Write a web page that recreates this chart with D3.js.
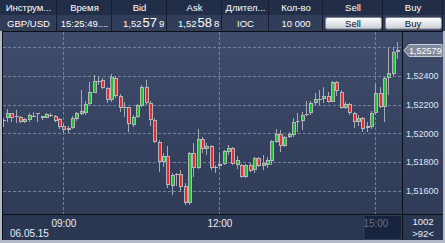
<!DOCTYPE html>
<html>
<head>
<meta charset="utf-8">
<script src="https://cdn.jsdelivr.net/npm/d3@7"></script>
<style>
  body { margin: 0; background: #2b3651; }
  svg { display: block; font-family: "Liberation Sans", Arial, sans-serif; }
</style>
</head>
<body>
<svg id="chart"></svg>
<script>
// 5 minute bars, GBP/USD, 06.05.15
var times = ["07:50","07:55",
  "08:00","08:05","08:10","08:15","08:20","08:25","08:30","08:35","08:40","08:45","08:50","08:55",
  "09:00","09:05","09:10","09:15","09:20","09:25","09:30","09:35","09:40","09:45","09:50","09:55",
  "10:00","10:05","10:10","10:15","10:20","10:25","10:30","10:35","10:40","10:45","10:50","10:55",
  "11:00","11:05","11:10","11:15","11:20","11:25","11:30","11:35","11:40","11:45","11:50","11:55",
  "12:00","12:05","12:10","12:15","12:20","12:25","12:30","12:35","12:40","12:45","12:50","12:55",
  "13:00","13:05","13:10","13:15","13:20","13:25","13:30","13:35","13:40","13:45","13:50","13:55",
  "14:00","14:05","14:10","14:15","14:20","14:25","14:30","14:35","14:40","14:45","14:50","14:55",
  "15:00","15:05","15:10","15:15","15:20","15:25"];

var open = [1.52090,1.52105,1.52139,1.52120,1.52116,1.52077,1.52093,1.52120,1.52140,1.52123,1.52109,1.52131,1.52123,1.52100,
  1.52053,1.52023,1.52035,1.52098,1.52133,1.52144,1.52206,1.52283,1.52367,1.52371,1.52318,1.52232,
  1.52388,1.52262,1.52181,1.52183,1.52058,1.52112,1.52193,1.52325,1.52209,1.52093,1.51941,1.51802,
  1.51844,1.51635,1.51714,1.51714,1.51635,1.51512,1.51861,1.51756,1.51958,1.51888,1.51911,1.51763,
  1.51770,1.51786,1.51872,1.51895,1.51779,1.51779,1.51698,1.51779,1.51744,1.51826,1.51772,1.51779,
  1.51809,1.51941,1.51995,1.51911,1.51976,1.51988,1.52086,1.52086,1.52135,1.52139,1.52213,1.52236,
  1.52237,1.52262,1.52220,1.52360,1.52290,1.52174,1.52202,1.52139,1.52077,1.52109,1.52035,1.52046,
  1.52139,1.52279,1.52185,1.52388,1.52411,1.52565];
var high = [1.52107,1.52167,1.52144,1.52162,1.52121,1.52109,1.52144,1.52151,1.52144,1.52123,1.52139,1.52139,1.52128,1.52109,
  1.52063,1.52051,1.52121,1.52151,1.52302,1.52225,1.52355,1.52406,1.52402,1.52385,1.52325,1.52416,
  1.52400,1.52272,1.52220,1.52186,1.52130,1.52202,1.52337,1.52371,1.52225,1.52105,1.51951,1.51860,
  1.51911,1.51721,1.51721,1.51744,1.51651,1.51868,1.51930,1.52028,1.51975,1.51930,1.51918,1.51779,
  1.51861,1.51884,1.51918,1.51902,1.51842,1.51786,1.51786,1.51791,1.51837,1.51837,1.51849,1.51837,
  1.51953,1.52030,1.52023,1.51981,1.52011,1.52109,1.52139,1.52146,1.52225,1.52225,1.52279,1.52302,
  1.52325,1.52290,1.52365,1.52365,1.52302,1.52216,1.52209,1.52151,1.52128,1.52116,1.52077,1.52155,
  1.52342,1.52325,1.52395,1.52597,1.52604,1.52638];
var low = [1.52044,1.52081,1.52081,1.52072,1.52070,1.52070,1.52081,1.52116,1.52080,1.52093,1.52105,1.52114,1.52077,1.52028,
  1.52000,1.52000,1.52028,1.52088,1.52128,1.52128,1.52198,1.52279,1.52337,1.52309,1.52209,1.52220,
  1.52244,1.52151,1.52116,1.52011,1.52046,1.52105,1.52186,1.52197,1.52053,1.51930,1.51728,1.51767,
  1.51617,1.51570,1.51635,1.51593,1.51500,1.51500,1.51698,1.51749,1.51861,1.51849,1.51744,1.51725,
  1.51749,1.51779,1.51849,1.51779,1.51749,1.51686,1.51686,1.51732,1.51725,1.51763,1.51744,1.51756,
  1.51779,1.51930,1.51872,1.51902,1.51965,1.51974,1.52011,1.52023,1.52123,1.52128,1.52197,1.52197,
  1.52209,1.52209,1.52216,1.52262,1.52169,1.52169,1.52128,1.52035,1.52053,1.52007,1.52011,1.52030,
  1.52128,1.52174,1.52077,1.52267,1.52401,1.52518];
var close = [1.52085,1.52144,1.52105,1.52115,1.52081,1.52098,1.52128,1.52123,1.52140,1.52109,1.52132,1.52118,1.52086,1.52042,
  1.52023,1.52035,1.52105,1.52139,1.52156,1.52206,1.52285,1.52364,1.52364,1.52318,1.52232,1.52390,
  1.52262,1.52178,1.52181,1.52063,1.52112,1.52197,1.52325,1.52209,1.52093,1.51941,1.51797,1.51844,
  1.51640,1.51709,1.51712,1.51628,1.51512,1.51861,1.51756,1.51958,1.51888,1.51911,1.51756,1.51765,
  1.51786,1.51877,1.51895,1.51786,1.51814,1.51698,1.51779,1.51740,1.51826,1.51772,1.51791,1.51814,
  1.51946,1.51995,1.51911,1.51976,1.51995,1.52081,1.52088,1.52128,1.52137,1.52213,1.52237,1.52238,
  1.52262,1.52220,1.52360,1.52295,1.52174,1.52202,1.52139,1.52077,1.52109,1.52030,1.52053,1.52139,
  1.52279,1.52185,1.52388,1.52418,1.52565,1.52579];

var priceTicks = [1.516, 1.518, 1.520, 1.522, 1.524, 1.526];
var timeTicks = ["09:00", "12:00", "15:00"];

var headers = ["Инструм...", "Время", "Bid", "Ask", "Длител...", "Кол-во", "Sell", "Buy"];
var row = ["GBP/USD", "15:25:49....", "", "", "IOC", "10 000", "Sell", "Buy"];
var bid = ["1,52", "57", "9"];
var ask = ["1,52", "58", "8"];
var dateLabel = "06.05.15";
var countLabel = "1002";
var barsLabel = ">92<";

var W = 445, H = 243;
var cols = [0, 57, 112, 167, 222, 269, 323, 383, 443];
var plot = {left: 3, right: 402, top: 32, bottom: 214};

var svg = d3.select("#chart").attr("width", W).attr("height", H);

var day = "2015-05-06 ";
var parse = d3.timeParse("%Y-%m-%d %H:%M");
var dates = times.map(function(t) { return parse(day + t); });

var x = d3.scaleTime()
  .domain([parse(day + "09:00"), parse(day + "12:00")])
  .range([63.4, 219.4]);
var y = d3.scaleLinear()
  .domain([1.516, 1.526])
  .range([190.7, 47.3]);

var defs = svg.append("defs");
var bg = defs.append("linearGradient").attr("id", "bg")
  .attr("x1", 0).attr("y1", 0).attr("x2", 0).attr("y2", 1);
bg.append("stop").attr("offset", 0).attr("stop-color", "#3f4c6b");
bg.append("stop").attr("offset", 1).attr("stop-color", "#2d3954");
var btn = defs.append("linearGradient").attr("id", "btn")
  .attr("x1", 0).attr("y1", 0).attr("x2", 0).attr("y2", 1);
btn.append("stop").attr("offset", 0).attr("stop-color", "#ffffff");
btn.append("stop").attr("offset", 1).attr("stop-color", "#c9ced6");
defs.append("clipPath").attr("id", "clip").append("rect")
  .attr("x", plot.left).attr("y", plot.top)
  .attr("width", plot.right - plot.left).attr("height", plot.bottom - plot.top);

// header table
svg.append("rect").attr("width", W).attr("height", 15).attr("fill", "#222e47");
svg.append("rect").attr("y", 15).attr("width", W).attr("height", 16).attr("fill", "#313d59");
cols.slice(1).forEach(function(c) {
  svg.append("line").attr("x1", c - 0.5).attr("x2", c - 0.5).attr("y1", 0).attr("y2", 31)
    .attr("stroke", "#151d2e");
});
headers.forEach(function(h, i) {
  svg.append("text").text(h)
    .attr("x", (cols[i] + cols[i + 1]) / 2).attr("y", 11)
    .attr("text-anchor", "middle").attr("font-size", "9.5px").attr("fill", "#ffffff");
});
row.forEach(function(v, i) {
  if (!v) return;
  var cx = (cols[i] + cols[i + 1]) / 2;
  if (i >= 6) {
    svg.append("rect").attr("x", cols[i] + 2.5).attr("y", 17.5)
      .attr("width", cols[i + 1] - cols[i] - 4).attr("height", 11.5).attr("rx", 2)
      .attr("fill", "url(#btn)").attr("stroke", "#7e8592");
  }
  svg.append("text").text(v)
    .attr("x", cx).attr("y", 27)
    .attr("text-anchor", "middle").attr("font-size", "9.5px")
    .attr("fill", i >= 6 ? "#111111" : "#ffffff");
});
[[bid, cols[2]], [ask, cols[3]]].forEach(function(q) {
  var t = svg.append("text").attr("x", q[1] + 11).attr("y", 27).attr("fill", "#ffffff");
  t.append("tspan").text(q[0][0]).attr("font-size", "9.5px");
  t.append("tspan").text(q[0][1]).attr("font-size", "13px").attr("dx", 1);
  t.append("tspan").text(q[0][2]).attr("font-size", "9.5px").attr("dx", 2);
});

// chart area
svg.append("rect").attr("x", 0).attr("y", 31).attr("width", W).attr("height", H - 31)
  .attr("fill", "#b3bac7");
svg.append("rect").attr("x", 2).attr("y", 31).attr("width", 441).attr("height", 209)
  .attr("fill", "url(#bg)");
svg.append("rect").attr("x", 2).attr("y", 214).attr("width", 441).attr("height", 26)
  .attr("fill", "#2b3651");

// grid
svg.append("g").selectAll("line").data(priceTicks).enter().append("line")
  .attr("x1", plot.left).attr("x2", plot.right)
  .attr("y1", function(d) { return Math.round(y(d)) + 0.5; })
  .attr("y2", function(d) { return Math.round(y(d)) + 0.5; })
  .attr("stroke", "#7182a2").attr("stroke-dasharray", "3,2");
svg.append("g").selectAll("line").data(timeTicks).enter().append("line")
  .attr("x1", function(d) { return Math.round(x(parse(day + d))) + 0.5; })
  .attr("x2", function(d) { return Math.round(x(parse(day + d))) + 0.5; })
  .attr("y1", plot.top).attr("y2", plot.bottom)
  .attr("stroke", "#7182a2").attr("stroke-dasharray", "3,2");

// candles
var candles = svg.append("g").attr("clip-path", "url(#clip)")
  .selectAll("g").data(dates).enter().append("g");
candles.append("rect")
  .attr("x", function(d) { return Math.round(x(d)); })
  .attr("y", function(d, i) { return Math.round(y(high[i])); })
  .attr("width", 1)
  .attr("height", function(d, i) { return Math.max(1, Math.round(y(low[i])) - Math.round(y(high[i]))); })
  .attr("fill", "#a6aab2");
function bodyTop(i) { return Math.round(y(Math.max(open[i], close[i]))); }
function bodyH(i) { return Math.max(1, Math.round(y(Math.min(open[i], close[i]))) - bodyTop(i)); }
candles.append("rect")
  .attr("x", function(d) { return Math.round(x(d)) - 1; })
  .attr("y", function(d, i) { return bodyTop(i); })
  .attr("width", 4)
  .attr("height", function(d, i) { return bodyH(i); })
  .attr("fill", "#b4b6bb");
candles.filter(function(d, i) { return bodyH(i) > 2; }).append("rect")
  .attr("x", function(d) { return Math.round(x(d)); })
  .attr("y", function(d) { return bodyTop(dates.indexOf(d)) + 1; })
  .attr("width", 2)
  .attr("height", function(d) { return bodyH(dates.indexOf(d)) - 2; })
  .attr("fill", function(d) {
    var i = dates.indexOf(d);
    return close[i] > open[i] ? "#1fc12c" : "#ec2a2c";
  });

// borders
svg.append("line").attr("x1", 2).attr("x2", 443).attr("y1", 31.5).attr("y2", 31.5).attr("stroke", "#0b0f18");
svg.append("line").attr("x1", 2.5).attr("x2", 2.5).attr("y1", 31).attr("y2", 240).attr("stroke", "#0b0f18");
svg.append("line").attr("x1", 2).attr("x2", 443).attr("y1", 214.5).attr("y2", 214.5).attr("stroke", "#0b0f18");
svg.append("line").attr("x1", 402.5).attr("x2", 402.5).attr("y1", 31).attr("y2", 240).attr("stroke", "#0b0f18");

// time axis
svg.append("rect").attr("x", 364).attr("y", 215.5).attr("width", 37.5).attr("height", 24)
  .attr("fill", "#18233d").attr("stroke", "#344059");
var xAxis = d3.axisBottom(x)
  .tickValues(timeTicks.map(function(t) { return parse(day + t); }))
  .tickFormat(d3.timeFormat("%H:%M"))
  .tickSize(0);
var gx = svg.append("g").attr("transform", "translate(0,217)").call(xAxis);
gx.select(".domain").remove();
gx.selectAll("text").attr("font-size", "10px").attr("font-family", "Liberation Sans, Arial, sans-serif")
  .attr("fill", function(d, i) { return i === 2 ? "#66738e" : "#e8eef8"; });

// price axis
var yAxis = d3.axisRight(y)
  .tickValues(priceTicks.slice(0, 5))
  .tickFormat(function(d) { return d3.format(".5f")(d).replace(".", ","); })
  .tickSize(0).tickPadding(4);
var gy = svg.append("g").attr("transform", "translate(402,0)").call(yAxis);
gy.select(".domain").remove();
gy.selectAll("text").attr("font-size", "9px").attr("font-family", "Liberation Sans, Arial, sans-serif")
  .attr("fill", "#dde7f6");

// current price marker
var last = close[close.length - 1];
var ly = Math.round(y(last)) + 0.5;
svg.append("path")
  .attr("d", "M404," + ly + "L409," + (ly - 6) + "H442V" + (ly + 6) + "H409Z")
  .attr("fill", "#7f899c").attr("stroke", "#c9ced8");
svg.append("text").text(d3.format(".5f")(last).replace(".", ","))
  .attr("x", 409).attr("y", ly + 3.5).attr("font-size", "9px").attr("fill", "#ffffff");

// footer
svg.append("text").text(dateLabel).attr("x", 10).attr("y", 237)
  .attr("font-size", "10px").attr("fill", "#e8eef8");
svg.append("text").text(countLabel).attr("x", 423).attr("y", 225)
  .attr("text-anchor", "middle").attr("font-size", "9.5px").attr("fill", "#e8eef8");
svg.append("text").text(barsLabel).attr("x", 423).attr("y", 237)
  .attr("text-anchor", "middle").attr("font-size", "9.5px").attr("fill", "#e8eef8");
</script>
</body>
</html>
